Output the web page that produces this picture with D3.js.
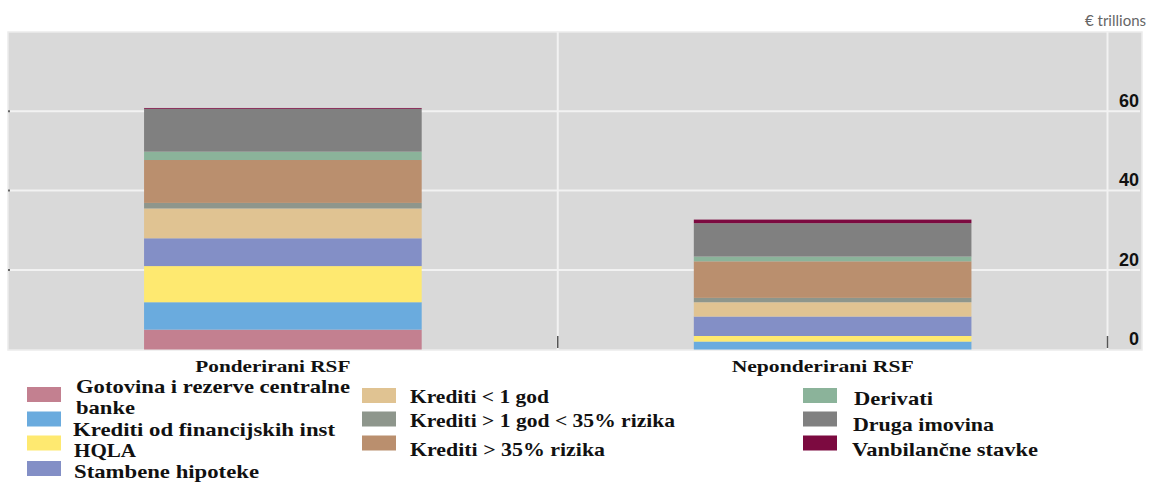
<!DOCTYPE html>
<html>
<head>
<meta charset="utf-8">
<script src="https://cdn.jsdelivr.net/npm/d3@7"></script>
<style>
  html, body { margin: 0; padding: 0; background: #ffffff; }
  svg { display: block; }
</style>
</head>
<body>
<svg id="chart" width="1153" height="482"></svg>
<script>
// ---- data ----
const categories = ["Ponderirani RSF", "Neponderirani RSF"];
const seriesNames = [
  "Gotovina i rezerve centralne banke",
  "Krediti od financijskih inst",
  "HQLA",
  "Stambene hipoteke",
  "Krediti < 1 god",
  "Krediti > 1 god < 35% rizika",
  "Krediti > 35% rizika",
  "Derivati",
  "Druga imovina",
  "Vanbilančne stavke"
];
const gotovina      = [5.0, 0.0];
const kreditiFin    = [6.9, 2.0];
const hqla          = [9.1, 1.4];
const stambene      = [7.0, 4.9];
const kreditiLt1    = [7.5, 3.6];
const kreditiGt1    = [1.4, 1.1];
const kreditiGt35   = [10.8, 9.2];
const derivati      = [2.1, 1.2];
const drugaImovina  = [10.8, 8.4];
const vanbilancne   = [0.2, 0.9];
const seriesValues = [gotovina, kreditiFin, hqla, stambene, kreditiLt1, kreditiGt1, kreditiGt35, derivati, drugaImovina, vanbilancne];
const yTicks = [0, 20, 40, 60];
const unitLabel = "€ trillions";

// ---- styles ----
const colors = ["#c38090", "#6aabde", "#fee970", "#838fc6", "#e0c392", "#8e968c", "#ba8f6e", "#8bb39a", "#808080", "#7c0a40"];

const svg = d3.select("#chart");

const plot = { left: 8, right: 1142, top: 32, bottom: 350 };
const bandRight = 1107.5;

const y = d3.scaleLinear().domain([0, 80]).range([349.5, 31.7]);
const x = d3.scaleBand().domain(categories).range([plot.left, bandRight]).paddingInner(0).paddingOuter(0);
const barFrac = 0.505;

// background
svg.append("rect")
  .attr("x", plot.left).attr("y", plot.top)
  .attr("width", plot.right - plot.left).attr("height", plot.bottom - plot.top)
  .attr("fill", "#d9d9d9").attr("stroke", "#ececec").attr("stroke-width", 1.5);

// gridlines
svg.append("g").selectAll("line").data(yTicks.filter(d => d > 0)).join("line")
  .attr("x1", plot.left).attr("x2", 1140)
  .attr("y1", d => y(d)).attr("y2", d => y(d))
  .attr("stroke", "#f2f2f2").attr("stroke-width", 2);

// category separators
const seps = [categories[1]].map(c => x(c)).concat([bandRight]);
svg.append("g").selectAll("line").data(seps).join("line")
  .attr("x1", d => d).attr("x2", d => d)
  .attr("y1", plot.top).attr("y2", plot.bottom)
  .attr("stroke", "#f2f2f2").attr("stroke-width", 2);

// small bottom ticks
svg.append("g").selectAll("line").data(seps).join("line")
  .attr("x1", d => d).attr("x2", d => d)
  .attr("y1", 336).attr("y2", 348)
  .attr("stroke", "#555").attr("stroke-width", 1.5);

// small left ticks
svg.append("g").selectAll("line").data(yTicks.filter(d => d > 0)).join("line")
  .attr("x1", plot.left).attr("x2", plot.left + 2)
  .attr("y1", d => y(d)).attr("y2", d => y(d))
  .attr("stroke", "#666").attr("stroke-width", 2);

// stacked bars
const table = categories.map((c, i) => {
  const row = { cat: c };
  seriesNames.forEach((s, j) => row[s] = seriesValues[j][i]);
  return row;
});
const stack = d3.stack().keys(seriesNames)(table);
const bw = x.bandwidth() * barFrac;
svg.append("g").selectAll("g").data(stack).join("g")
  .attr("fill", (d, i) => colors[i])
  .selectAll("rect").data(d => d).join("rect")
  .attr("x", d => x(d.data.cat) + (x.bandwidth() - bw) / 2)
  .attr("width", bw)
  .attr("y", d => y(d[1]))
  .attr("height", d => Math.max(0, y(d[0]) - y(d[1])));

// y axis labels (right side)
const yAxis = d3.axisRight(y).tickValues(yTicks).tickSize(0).tickFormat(d3.format("d"));
const yg = svg.append("g").attr("transform", "translate(1139,0)").call(yAxis);
yg.select(".domain").remove();
yg.selectAll("text")
  .attr("x", 0).attr("dy", 0).attr("y", -5)
  .attr("text-anchor", "end")
  .attr("font-family", "Liberation Sans, Arial, sans-serif")
  .attr("font-weight", "bold").attr("font-size", 18).attr("fill", "#111");

// unit label
svg.append("text").attr("x", 1146).attr("y", 26)
  .attr("text-anchor", "end")
  .attr("font-family", "Lato, Open Sans, sans-serif").attr("font-size", 15)
  .attr("fill", "#666").text(unitLabel);

// x axis labels
const catLabelWidths = [155, 182];
const xAxis = d3.axisBottom(x).tickSize(0);
const xg = svg.append("g").attr("transform", "translate(-10,0)").call(xAxis);
xg.select(".domain").remove();
xg.selectAll("text")
  .attr("y", 372).attr("dy", 0)
  .attr("font-family", "Liberation Serif, Times New Roman, serif")
  .attr("font-weight", "bold").attr("font-size", 17).attr("fill", "#111")
  .attr("textLength", (d, i) => catLabelWidths[i])
  .attr("lengthAdjust", "spacingAndGlyphs");

// legend
const legendItems = [
  { i: 0, sx: 27, sy: 387, tx: 76, lines: ["Gotovina i rezerve centralne", "banke"], ty: [393, 413.8], w: [274, 59] },
  { i: 1, sx: 27, sy: 411.5, tx: 73, lines: ["Krediti od financijskih inst"], ty: [435.5], w: [262] },
  { i: 2, sx: 27, sy: 435.5, tx: 74, lines: ["HQLA"], ty: [457], w: [62] },
  { i: 3, sx: 27, sy: 461, tx: 74, lines: ["Stambene hipoteke"], ty: [478], w: [185] },
  { i: 4, sx: 362, sy: 388, tx: 410, lines: ["Krediti < 1 god"], ty: [403], w: [139] },
  { i: 5, sx: 362, sy: 411.5, tx: 410, lines: ["Krediti > 1 god < 35% rizika"], ty: [427], w: [265] },
  { i: 6, sx: 362, sy: 435.5, tx: 410, lines: ["Krediti > 35% rizika"], ty: [456], w: [195] },
  { i: 7, sx: 803, sy: 388, tx: 854, lines: ["Derivati"], ty: [405], w: [79] },
  { i: 8, sx: 803, sy: 411.5, tx: 853, lines: ["Druga imovina"], ty: [431], w: [141] },
  { i: 9, sx: 803, sy: 435.5, tx: 852, lines: ["Vanbilančne stavke"], ty: [456], w: [186] }
];
const lg = svg.append("g");
legendItems.forEach(it => {
  lg.append("rect").attr("x", it.sx).attr("y", it.sy).attr("width", 34).attr("height", 15)
    .attr("fill", colors[it.i]);
  it.lines.forEach((ln, k) => {
    lg.append("text").attr("x", it.tx).attr("y", it.ty[k])
      .attr("font-family", "Liberation Serif, Times New Roman, serif")
      .attr("font-weight", "bold").attr("font-size", 19).attr("fill", "#111")
      .attr("textLength", it.w[k]).attr("lengthAdjust", "spacingAndGlyphs")
      .text(ln);
  });
});
</script>
</body>
</html>
